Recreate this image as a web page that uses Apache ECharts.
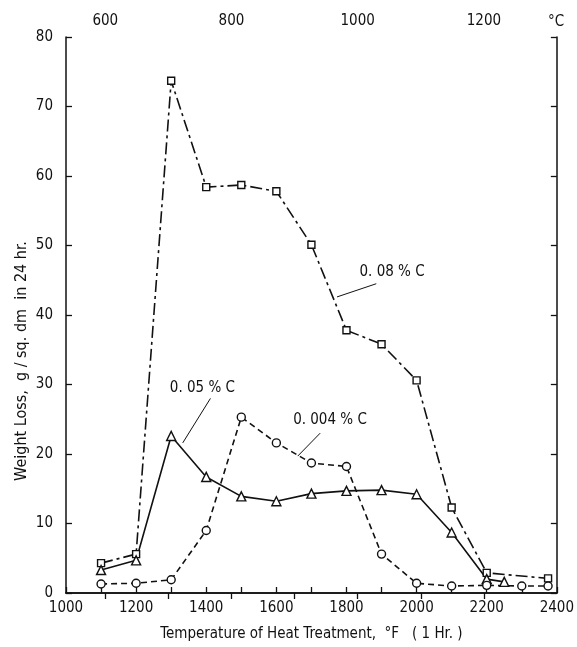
<!DOCTYPE html>
<html>
<head>
<meta charset="utf-8">
<script src="https://cdn.jsdelivr.net/npm/echarts@6/dist/echarts.min.js"></script>
<style>
  html, body { margin: 0; padding: 0; background: #fff; }
  #chart { width: 577px; height: 647px; }
</style>
</head>
<body>
<div id="chart"></div>
<script>
// Heat-treatment temperature (°F) and weight loss (g / sq. dm in 24 hr.)
const tempC008 = [1100, 1200, 1300, 1400, 1500, 1600, 1700, 1800, 1900, 2000, 2100, 2200, 2375];
const loss008  = [4.3, 5.6, 73.7, 58.4, 58.7, 57.8, 50.1, 37.8, 35.8, 30.6, 12.3, 2.9, 2.1];

const tempC005 = [1100, 1200, 1300, 1400, 1500, 1600, 1700, 1800, 1900, 2000, 2100, 2200, 2250];
const loss005  = [3.3, 4.7, 22.6, 16.7, 13.9, 13.2, 14.3, 14.7, 14.8, 14.2, 8.7, 2.0, 1.6];

const tempC0004 = [1100, 1200, 1300, 1400, 1500, 1600, 1700, 1800, 1900, 2000, 2100, 2200, 2300, 2375];
const loss0004  = [1.3, 1.4, 1.9, 9.0, 25.3, 21.6, 18.7, 18.2, 5.6, 1.4, 1.0, 1.1, 1.0, 1.0];

// Celsius scale shown along the top edge
const celsiusMajor = [600, 800, 1000, 1200];
const celsiusMinor = [600, 700, 800, 900, 1000, 1100, 1200];

// Curve labels: [text, °F, loss] and leader arrows [°F, loss] -> [°F, loss]
const curveLabels = [
  ['0. 08 % C', 1930, 46.2],
  ['0. 05 % C', 1389, 29.5],
  ['0. 004 % C', 1753, 24.9]
];
const leaders = [
  [[1885, 44.5], [1773, 42.6]],
  [[1412, 28.0], [1333, 21.6]],
  [[1725, 23.0], [1661, 19.7]]
];

const FONT = "'Liberation Sans Narrow', 'DejaVu Sans Condensed', 'DejaVu Sans', sans-serif";
const toF = c => c * 1.8 + 32;
const pairs = (xs, ys) => xs.map((x, i) => [x, ys[i]]);

const chart = echarts.init(document.getElementById('chart'), null, { renderer: 'canvas' });

const axisLine = { show: true, lineStyle: { color: '#111', width: 1.5 } };
const tickIn = { show: true, inside: true, length: 6, lineStyle: { color: '#111', width: 1.3 } };

function markerSeries(name, data, symbol, size, lineType) {
  return {
    name, type: 'line', data,
    symbol, symbolSize: size,
    itemStyle: { color: '#fff', borderColor: '#111', borderWidth: 1.4 },
    lineStyle: { color: '#111', width: 1.6, type: lineType },
    z: 3, animation: false
  };
}

const s008 = markerSeries('0.08 % C', pairs(tempC008, loss008), 'rect', 7, [12, 4, 3, 4]);
const s005 = markerSeries('0.05 % C', pairs(tempC005, loss005), 'triangle', 9, 'solid');
const s0004 = markerSeries('0.004 % C', pairs(tempC0004, loss0004), 'circle', 8, [6, 4]);

// Curve labels and leader arrows drawn on an invisible helper series
const annot = {
  type: 'line', data: [], silent: true, animation: false,
  markPoint: {
    symbol: 'circle', symbolSize: 0,
    label: {
      show: true, position: 'inside', color: '#111',
      fontFamily: FONT, fontSize: 15,
      formatter: p => p.name
    },
    data: curveLabels.map(l => ({ name: l[0], coord: [l[1], l[2]] }))
  },
  markLine: {
    silent: true, symbol: ['none', 'arrow'], symbolSize: [0, 7],
    lineStyle: { color: '#111', width: 1, type: 'solid' },
    label: { show: false },
    data: leaders.map(l => [{ coord: l[0] }, { coord: l[1] }])
  }
};

chart.setOption({
  animation: false,
  backgroundColor: '#fff',
  grid: { left: 66, right: 10, top: 37, bottom: 51, containLabel: false },
  xAxis: [
    {
      type: 'value', position: 'bottom', min: 1000, max: 2400, interval: 100,
      axisLine, axisTick: tickIn,
      splitLine: { show: false },
      axisLabel: {
        color: '#111', fontFamily: FONT, fontSize: 15, margin: 8,
        formatter: v => (v % 200 === 0 ? String(v) : '')
      },
      name: 'Temperature of Heat Treatment,  °F   ( 1 Hr. )',
      nameLocation: 'middle', nameGap: 34,
      nameTextStyle: { color: '#111', fontFamily: FONT, fontSize: 15 }
    },
    {
      type: 'value', position: 'top', min: 1000, max: 2400,
      axisLine,
      axisTick: { ...tickIn, customValues: celsiusMinor.map(toF) },
      splitLine: { show: false },
      axisLabel: {
        color: '#111', fontFamily: FONT, fontSize: 15, margin: 8,
        customValues: celsiusMajor.map(toF),
        formatter: v => String(Math.round((v - 32) / 1.8))
      }
    }
  ],
  yAxis: [
    {
      type: 'value', position: 'left', min: 0, max: 80, interval: 10,
      axisLine, axisTick: tickIn,
      splitLine: { show: false },
      axisLabel: { color: '#111', fontFamily: FONT, fontSize: 15, margin: 13 }
    },
    {
      type: 'value', position: 'right', min: 0, max: 80, interval: 10,
      axisLine, axisTick: tickIn,
      splitLine: { show: false },
      axisLabel: { show: false }
    }
  ],
  graphic: [
    {
      type: 'text', x: 22, y: 361, rotation: Math.PI / 2,
      style: {
        text: 'Weight Loss,  g / sq. dm  in 24 hr.',
        fill: '#111', font: '16px ' + FONT,
        align: 'center', verticalAlign: 'middle'
      }
    },
    {
      type: 'text', x: 556, y: 22,
      style: {
        text: '°C', fill: '#111', font: '15px ' + FONT,
        align: 'center', verticalAlign: 'middle'
      }
    }
  ],
  series: [s008, s005, s0004, annot]
});
</script>
</body>
</html>
